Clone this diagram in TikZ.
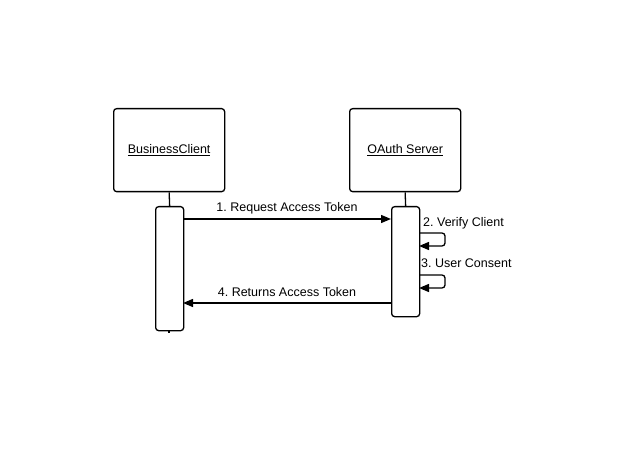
\documentclass[tikz,border=0pt]{standalone}
\usepackage{fontspec}
\setmainfont{Liberation Sans}
\usetikzlibrary{arrows.meta}
\frenchspacing
\begin{document}
\frenchspacing
\begin{tikzpicture}[x=1pt,y=-1pt,
  every node/.style={font=\fontsize{12.5}{14}\selectfont},
  obj/.style={draw,line width=1.3pt,rounded corners=3pt,minimum width=111pt,minimum height=83pt,anchor=north west,inner sep=0pt},
  act/.style={draw,line width=1.3pt,rounded corners=3pt,minimum width=28pt,anchor=north west,inner sep=0pt,fill=white},
  msg/.style={line width=1.3pt,-{Triangle[length=10pt,width=8pt]}},
  life/.style={line width=1.3pt},
  lbl/.style={inner sep=0pt}]
\useasboundingbox (0,0) rectangle (624,457);
\node[obj] (bc) at (113,108) {\underline{BusinessClient}};
\node[obj] (os) at (349,108) {\underline{OAuth Server}};
\node[act,minimum height=124pt] (abc) at (155,206) {};
\node[act,minimum height=110pt] (aos) at (391,206) {};
\draw[life] (bc.south) -- (abc.north);
\draw[life] (os.south) -- (aos.north);
\coordinate (t1) at (169,330);
\coordinate (t2) at (169,333);
\draw[life] (t1) -- (t2);
% messages
\coordinate (m1s) at (183,219);
\coordinate (m1e) at (391,219);
\draw[msg] (m1s) -- (m1e);
\node[lbl,anchor=base] (l1) at (287,212) {1. Request Access Token};
\coordinate (m4s) at (391,303);
\coordinate (m4e) at (183,303);
\draw[msg] (m4s) -- (m4e);
\node[lbl,anchor=base] (l4) at (287,296) {4. Returns Access Token};
% self loops
\coordinate (s2a) at (419,233);
\coordinate (s2b) at (419,246);
\draw[msg,rounded corners=3pt] (s2a) -- (445,233) -- (445,246) -- (s2b);
\node[lbl,anchor=base west] (l2) at (423,227) {2. Verify Client};
\coordinate (s3a) at (419,275);
\coordinate (s3b) at (419,288);
\draw[msg,rounded corners=3pt] (s3a) -- (445,275) -- (445,288) -- (s3b);
\node[lbl,anchor=base west] (l3) at (421,268) {3. User Consent};
\end{tikzpicture}
\end{document}
